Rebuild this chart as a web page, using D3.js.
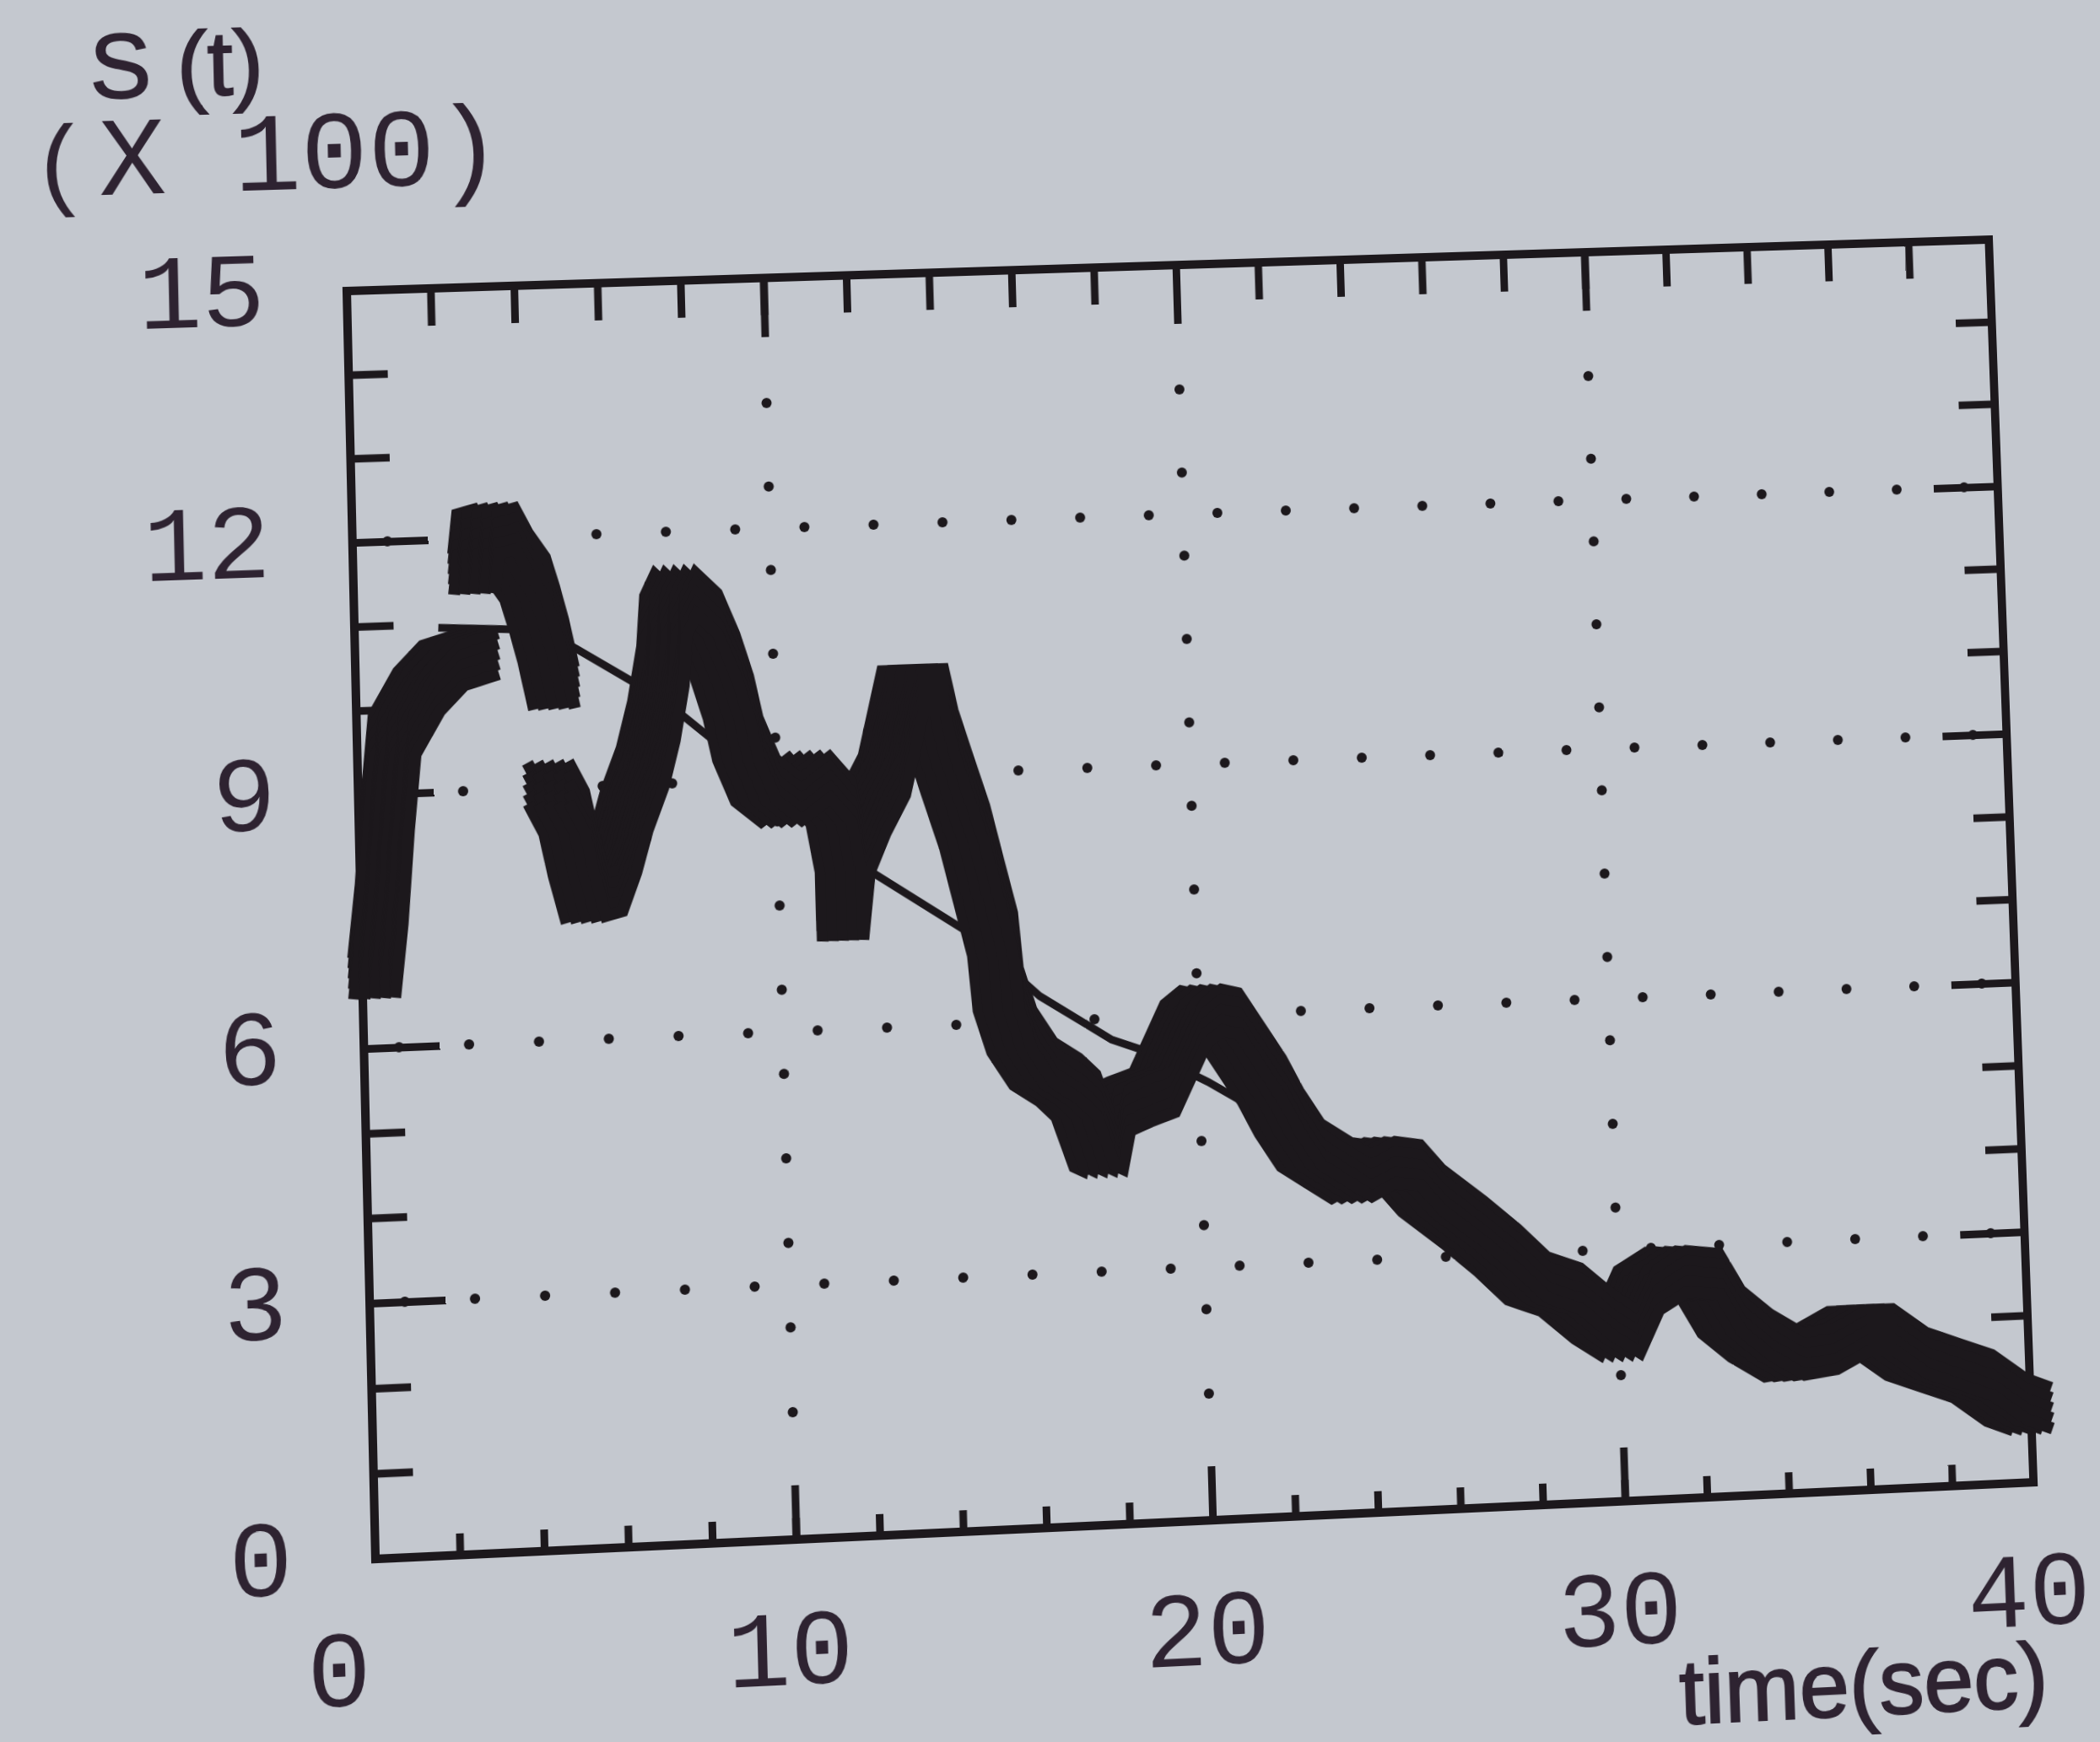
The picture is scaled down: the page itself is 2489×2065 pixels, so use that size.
<!DOCTYPE html>
<html>
<head>
<meta charset="utf-8">
<script src="https://cdn.jsdelivr.net/npm/d3@7"></script>
<style>
  html, body { margin: 0; padding: 0; width: 2489px; height: 2065px; overflow: hidden; background: #c4c8cf; }
  #wrap { position: absolute; left: 0; top: 0; width: 2489px; height: 2200px; transform-origin: 0 0; }
</style>
</head>
<body>
<div id="wrap"></div>
<script>
// S(t) trace (x100): [time (sec), S]
const segRise = [[0.3, 6.9], [0.5, 7.7], [0.7, 8.8], [0.9, 9.7], [1.5, 10.2], [2.1, 10.5], [2.8, 10.6]];
const segPeak = [[2.9, 11.65], [3.0, 12.05], [3.4, 12.1], [3.7, 11.8], [4.1, 11.5], [4.3, 11.15], [4.5, 10.75], [4.7, 10.25]];
const segMain = [
  [4.6, 9.0], [4.9, 8.7], [5.1, 8.2], [5.35, 7.7], [5.75, 7.75], [6.1, 8.2], [6.4, 8.7], [6.8, 9.2],
  [7.1, 9.75], [7.35, 10.4], [7.45, 11.0], [7.7, 11.25], [8.2, 11.0], [8.6, 10.5], [8.9, 10.0], [9.1, 9.5],
  [9.5, 9.0], [10.1, 8.75], [10.8, 9.0], [11.3, 8.7], [11.5, 8.1], [11.5, 7.3], [11.7, 8.1], [12.1, 8.55],
  [12.6, 9.0], [12.9, 9.6], [13.1, 10.0], [13.6, 10.0], [13.8, 9.5], [14.1, 9.0], [14.5, 8.35], [14.8, 7.7],
  [15.1, 7.06], [15.2, 6.4], [15.5, 5.9], [16.0, 5.5], [16.6, 5.3], [17.0, 5.1], [17.4, 4.5], [17.6, 4.45],
  [17.8, 4.9], [18.3, 5.0], [18.9, 5.1], [19.3, 5.5], [19.7, 5.9], [20.1, 6.05], [20.5, 6.0], [21.0, 5.6],
  [21.5, 5.2], [21.9, 4.8], [22.4, 4.4], [23.0, 4.2], [23.6, 4.0], [24.2, 4.15], [24.8, 4.1], [25.3, 3.8],
  [26.3, 3.4], [27.1, 3.05], [27.8, 2.7], [28.6, 2.55], [29.4, 2.2], [30.0, 2.0], [30.5, 2.5], [31.2, 2.7],
  [32.0, 2.65], [32.5, 2.2], [33.2, 1.9], [34.0, 1.65], [34.8, 1.7], [35.6, 1.9], [36.2, 1.9], [37.0, 1.6],
  [37.8, 1.45], [38.6, 1.3], [39.4, 1.0], [39.9, 0.9]
];
// thin line
const trendLine = [[2.0, 10.95], [3.8, 10.9], [5.1, 10.7], [6.7, 10.2], [7.8, 9.8], [8.5, 9.5], [12.1, 7.9],
  [14.5, 7.1], [16.2, 6.3], [17.9, 5.75], [18.7, 5.6], [20.2, 5.2], [21.5, 4.8], [22.2, 4.5]];

const xLabels = [0, 10, 20, 30, 40];
const yLabels = [0, 3, 6, 9, 12, 15];
const xMajor = [10, 20, 30];
const yMajor = [3, 6, 9, 12];

const INK = "#1c181c";
const TXT = "#2e2331";
const L = 420, R = 2390, T = 320, B = 1800;

let svg = d3.select("#wrap").append("svg")
  .attr("width", 2489).attr("height", 2200)
  .style("overflow", "visible")

let x = d3.scaleLinear().domain([0, 40]).range([L, R])
let y = d3.scaleLinear().domain([0, 15]).range([B, T])

// dotted grid
let grid = svg.append("g").attr("fill", INK)
yMajor.forEach(v => {
  grid.selectAll(null).data(d3.range(24)).enter().append("circle")
    .attr("cx", k => x((k + 0.5) * 40 / 24)).attr("cy", y(v)).attr("r", 6)
})
xMajor.forEach(t => {
  grid.selectAll(null).data(d3.range(1, 14)).enter().append("circle")
    .attr("cx", x(t)).attr("cy", k => y(k + 0.5)).attr("r", 6)
})

// ticks, all pointing inward
function ticks(axis, tr, len, vals) {
  let g = svg.append("g").attr("transform", tr)
    .call(axis.tickValues(vals).tickSize(-len).tickSizeOuter(0).tickFormat(""))
  g.select(".domain").remove()
  g.selectAll("line").attr("stroke", INK).attr("stroke-width", 9)
}
ticks(d3.axisBottom(x), `translate(0,${B})`, 25, d3.range(0, 41, 2))
ticks(d3.axisBottom(x), `translate(0,${B})`, 63, xMajor)
ticks(d3.axisTop(x), `translate(0,${T})`, 44, d3.range(0, 41, 2))
ticks(d3.axisTop(x), `translate(0,${T})`, 70, xMajor)
ticks(d3.axisLeft(y), `translate(${L},0)`, 46, d3.range(0, 16))
ticks(d3.axisLeft(y), `translate(${L},0)`, 89, yMajor)
ticks(d3.axisRight(y), `translate(${R},0)`, 44, d3.range(0, 16))
ticks(d3.axisRight(y), `translate(${R},0)`, 78, yMajor)

// frame
svg.append("rect")
  .attr("x", x(0)).attr("y", y(15))
  .attr("width", x(40) - x(0)).attr("height", y(0) - y(15))
  .attr("fill", "none").attr("stroke", INK).attr("stroke-width", 10)

// thin line
let line = d3.line().x(d => x(d[0])).y(d => y(d[1]))
svg.append("path").datum(trendLine)
  .attr("d", line).attr("fill", "none")
  .attr("stroke", INK).attr("stroke-width", 9)

// thick trace: square pen made of offset copies
let pen = svg.append("g").attr("fill", "none").attr("stroke", INK)
  .attr("stroke-width", 14).attr("stroke-linecap", "square").attr("stroke-linejoin", "miter")
const offs = [-24, -12, 0, 12, 24]
;[segRise, segPeak, segMain].forEach(seg => {
  offs.forEach(dx => offs.forEach(dy => {
    pen.append("path").datum(seg).attr("d", line)
      .attr("transform", `translate(${dx},${dy})`)
  }))
})

// tick labels (dot-matrix style)
const MONO = "'Liberation Mono', 'DejaVu Sans Mono', monospace"
svg.append("g").selectAll("text").data(yLabels).enter().append("text")
  .attr("x", L - 96).attr("y", d => y(d)).attr("dy", "0.3em")
  .attr("text-anchor", "end").attr("font-family", MONO).attr("font-size", 124)
  .attr("fill", TXT).text(d => d)
svg.append("g").selectAll("text").data(xLabels).enter().append("text")
  .attr("x", d => x(d) - (d === 0 ? 45 : 10)).attr("y", B + 168)
  .attr("text-anchor", "middle").attr("font-family", MONO).attr("font-size", 124)
  .attr("fill", TXT).text(d => d)

// axis titles
svg.append("text").attr("x", 124).attr("y", 84)
  .attr("font-family", "'Liberation Sans', Arial, sans-serif").attr("font-size", 108)
  .attr("fill", TXT).attr("stroke", TXT).attr("stroke-width", 2)
  .text("S (t)")
svg.append("text").attr("x", 52).attr("y", 198)
  .attr("font-family", MONO).attr("font-size", 118).attr("fill", TXT)
  .text("(")
svg.append("text").attr("x", 132).attr("y", 198)
  .attr("font-family", MONO).attr("font-size", 132).attr("fill", TXT)
  .text("X 100)")
svg.append("text").attr("x", 2399).attr("y", 2064).attr("text-anchor", "end")
  .attr("font-family", "'Liberation Sans', Arial, sans-serif").attr("font-size", 108)
  .attr("fill", TXT).attr("stroke", TXT).attr("stroke-width", 2)
  .text("time(sec)")

// the printed sheet was photographed at an angle: map the flat frame onto it
function homography(src, dst) {
  let A = [], b = []
  for (let i = 0; i < 4; i++) {
    let [sx, sy] = src[i], [X, Y] = dst[i]
    A.push([sx, sy, 1, 0, 0, 0, -sx * X, -sy * X]); b.push(X)
    A.push([0, 0, 0, sx, sy, 1, -sx * Y, -sy * Y]); b.push(Y)
  }
  for (let c = 0; c < 8; c++) {
    let p = c
    for (let r = c + 1; r < 8; r++) if (Math.abs(A[r][c]) > Math.abs(A[p][c])) p = r
    ;[A[c], A[p]] = [A[p], A[c]]; [b[c], b[p]] = [b[p], b[c]]
    for (let r = 0; r < 8; r++) {
      if (r === c) continue
      let f = A[r][c] / A[c][c]
      for (let k = c; k < 8; k++) A[r][k] -= f * A[c][k]
      b[r] -= f * b[c]
    }
  }
  return b.map((v, i) => v / A[i][i])
}
let h = homography(
  [[L, T], [R, T], [R, B], [L, B]],
  [[411, 345], [2357, 284], [2410, 1757], [445, 1848]])
d3.select("#wrap").style("transform",
  `matrix3d(${h[0]},${h[3]},0,${h[6]},${h[1]},${h[4]},0,${h[7]},0,0,1,0,${h[2]},${h[5]},0,1)`)
</script>
</body>
</html>
